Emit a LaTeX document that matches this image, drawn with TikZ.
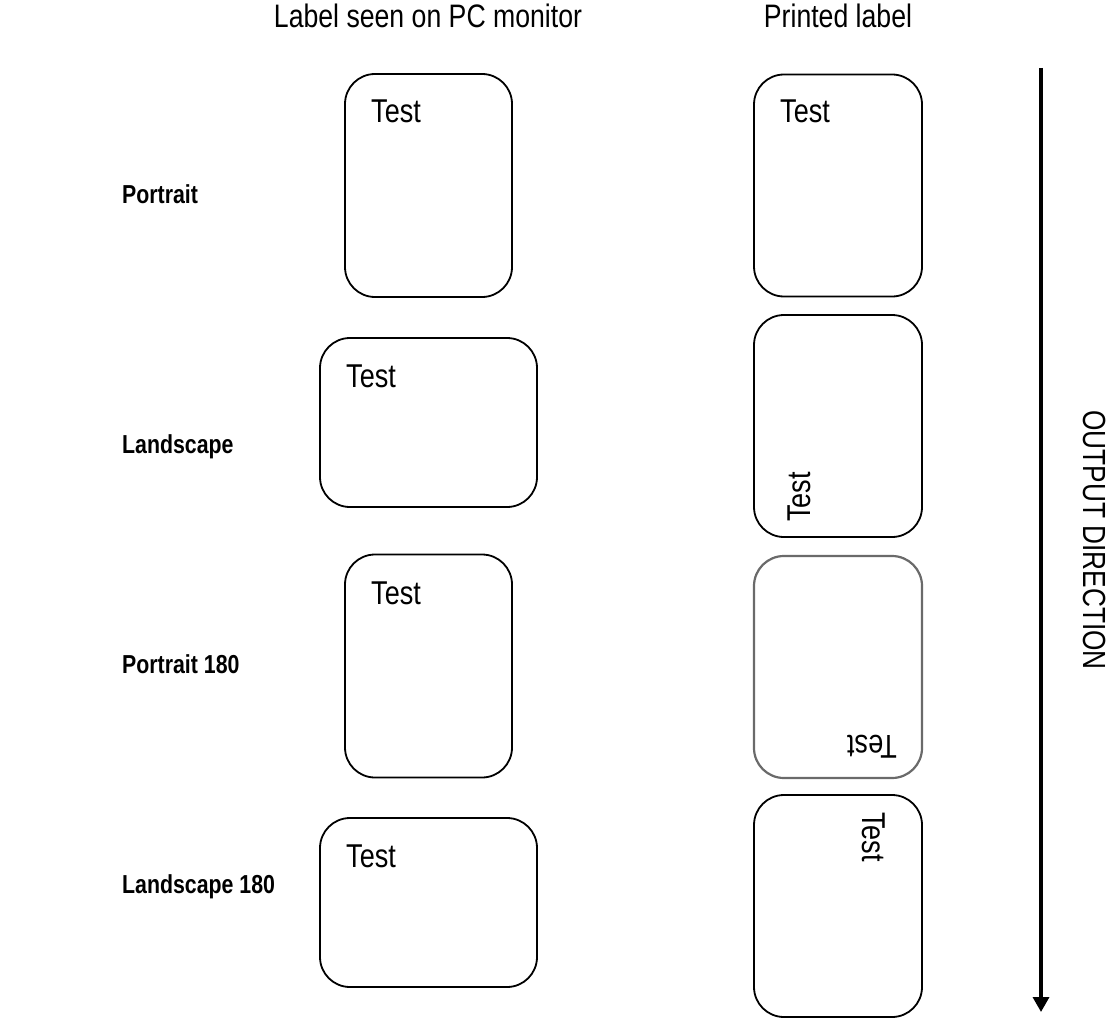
\documentclass[tikz,border=0pt]{standalone}
\usepackage{fontspec}
\setmainfont{Liberation Sans}[FakeStretch=0.82]
\usetikzlibrary{arrows.meta}
\definecolor{edgegrey}{HTML}{6A6A6A}
\begin{document}
\begin{tikzpicture}[x=1pt,y=-1pt,
  labelbox/.style={draw=black, line width=1.8pt, rounded corners=30pt, inner sep=0pt, fill=white},
  greybox/.style={labelbox, draw=edgegrey, line width=2.2pt},
  portraitbox/.style={minimum width=167pt, minimum height=223pt},
  landbox/.style={minimum width=217pt, minimum height=169pt},
  printbox/.style={minimum width=168pt, minimum height=222pt},
  testtxt/.style={inner sep=0pt, anchor=base west, font=\fontsize{33}{39}\selectfont},
  headtxt/.style={inner sep=0pt, anchor=base, font=\fontsize{32.5}{38}\selectfont},
  rowtxt/.style={inner sep=0pt, anchor=base west, font=\fontsize{26}{31}\selectfont\bfseries},
  dirarrow/.style={line width=3.4pt, -{Triangle[width=16pt,length=15pt]}}
]
\useasboundingbox (0,0) rectangle (1115,1019);

% headers
\node[headtxt] (hmon) at (428,28) {Label seen on PC monitor};
\node[headtxt] (hprint) at (838,28) {Printed label};

% row labels
\node[rowtxt] (rport) at (122,203) {Portrait};
\node[rowtxt] (rland) at (122,453) {Landscape};
\node[rowtxt] (rport180) at (122,673) {Portrait 180};
\node[rowtxt] (rland180) at (122,893) {Landscape 180};

% monitor boxes
\node[labelbox, portraitbox] (m1) at (428.5,185.5) {};
\node[labelbox, landbox] (m2) at (428.5,422.5) {};
\node[labelbox, portraitbox] (m3) at (428.5,666) {};
\node[labelbox, landbox] (m4) at (428.5,902.5) {};
\node[testtxt] (m1t) at (371,123) {Test};
\node[testtxt] (m2t) at (346,387) {Test};
\node[testtxt] (m3t) at (371,604) {Test};
\node[testtxt] (m4t) at (346,867) {Test};

% printed boxes
\node[labelbox, printbox] (p1) at (838,185.5) {};
\node[labelbox, printbox] (p2) at (838,426) {};
\node[greybox, printbox] (p3) at (838,667) {};
\node[labelbox, printbox] (p4) at (838,906) {};
\node[testtxt] (p1t) at (780,123) {Test};
\node[testtxt, rotate=90] (p2t) at (810,522) {Test};
\node[testtxt, rotate=180] (p3t) at (897,735) {Test};
\node[testtxt, rotate=-90] (p4t) at (862,812) {Test};

% output direction
\coordinate (atop) at (1041,68);
\coordinate (abot) at (1041,1012);
\draw[dirarrow] (atop) -- (abot);
\node[inner sep=0pt, rotate=-90, font=\fontsize{32}{38}\selectfont] (outdir) at (1094,540) {OUTPUT DIRECTION};
\end{tikzpicture}
\end{document}
